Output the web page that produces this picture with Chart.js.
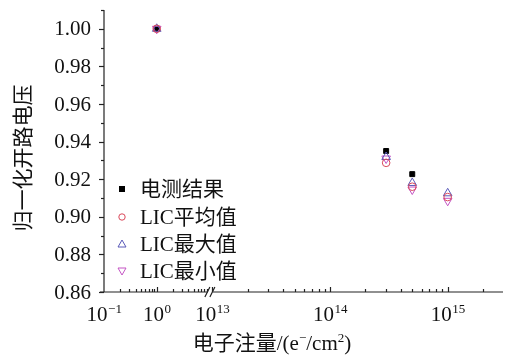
<!DOCTYPE html>
<html><head><meta charset="utf-8">
<script src="https://cdn.jsdelivr.net/npm/chart.js@4/dist/chart.umd.min.js"></script>
<style>html,body{margin:0;padding:0;background:#fff}#wrap{width:517px;height:357px;position:relative}</style>
</head><body><div id="wrap"><canvas id="c"></canvas></div>
<script>
// ---- data ----
const fluence = [1, 3e14, 5e14, 1e15];           // e-/cm^2
const measured = [1.000, 0.935, 0.9227, null];    // 电测结果
const licAvg   = [1.000, 0.9287, 0.9160, 0.9105]; // LIC平均值
const licMax   = [1.000, 0.9318, 0.9180, 0.9125]; // LIC最大值
const licMin   = [1.000, 0.9310, 0.9145, 0.9085]; // LIC最小值
const seriesNames = ['电测结果', 'LIC平均值', 'LIC最大值', 'LIC最小值'];
const xTickExps = [-1, 0, 13, 14, 15];
const yTicks = [0.86, 0.88, 0.90, 0.92, 0.94, 0.96, 0.98, 1.00];
const xTitle = '电子注量/(e⁻/cm²)';
const yTitle = '归一化开路电压';

// broken log axis: segment 1 = 1e-1..1e1, segment 2 = 1e13..
const SEG1 = 0.448, BREAK = 0.92, XMAX = 3.39;
function fx(v){ const L = Math.log10(v); return L <= 1.0001 ? SEG1*(L+1) : BREAK + (L-13); }
const pts = arr => fluence.map((f,i)=> arr[i]==null ? null : {x: fx(f), y: arr[i]}).filter(p=>p);

const SERIF = '"Liberation Serif","Noto Sans CJK SC",serif';
const styles = [
  {pointStyle:'rect', radius:3.5, color:'#000000', fill:'#000000', rot:0},
  {pointStyle:'circle', radius:3.8, color:'#d9485a', fill:'rgba(0,0,0,0)', rot:0},
  {pointStyle:'triangle', radius:5, color:'#5a5ab8', fill:'rgba(0,0,0,0)', rot:0},
  {pointStyle:'triangle', radius:5, color:'#c455c4', fill:'rgba(0,0,0,0)', rot:180}
];
const seriesData = [measured, licAvg, licMax, licMin];

const datasets = seriesData.map((arr,i)=>({
  label: seriesNames[i], data: pts(arr), showLine:false,
  pointStyle: styles[i].pointStyle, pointRadius: styles[i].radius, pointRotation: styles[i].rot,
  borderColor: styles[i].color, backgroundColor: styles[i].fill, pointBorderWidth: 1
}));
// draw measured on top
datasets.push(datasets.shift());

const axesPlugin = {
  id:'axes',
  afterDraw(chart){
    const ctx = chart.ctx, xs = chart.scales.x, ys = chart.scales.y;
    const x0 = xs.left, x1 = xs.right, yb = ys.bottom, yt = ys.top;
    ctx.save();
    ctx.strokeStyle = '#222'; ctx.lineWidth = 1.2; ctx.fillStyle = '#111';
    // y axis
    ctx.beginPath(); ctx.moveTo(x0, yt); ctx.lineTo(x0, yb); ctx.stroke();
    for (let v = 0.86; v <= 1.0101; v += 0.01) {
      const y = Math.round(ys.getPixelForValue(v)) + 0.5;
      const major = Math.abs(Math.round(v*100) % 2) === 0;
      ctx.beginPath(); ctx.moveTo(x0, y); ctx.lineTo(x0 - (major ? 5 : 3), y); ctx.stroke();
    }
    ctx.font = '21px ' + SERIF; ctx.textAlign = 'right'; ctx.textBaseline = 'middle';
    yTicks.forEach(v => ctx.fillText(v.toFixed(2), x0 - 13, ys.getPixelForValue(v) + 1));
    // x axis with break
    const bx = xs.getPixelForValue((SEG1*2 + BREAK)/2);
    ctx.beginPath(); ctx.moveTo(x0 - 4, yb); ctx.lineTo(bx - 3, yb); ctx.moveTo(bx + 2, yb); ctx.lineTo(x1, yb); ctx.stroke();
    ctx.beginPath();
    ctx.moveTo(bx - 6, yb + 5); ctx.lineTo(bx - 1, yb - 5);
    ctx.moveTo(bx - 1, yb + 5); ctx.lineTo(bx + 4, yb - 5);
    ctx.stroke();
    const tick = (v, len) => { const x = Math.round(xs.getPixelForValue(fx(v))) + 0.5;
      if (x < x0 - 1 || x > x1 + 1) return;
      ctx.beginPath(); ctx.moveTo(x, yb); ctx.lineTo(x, yb - len); ctx.stroke(); };
    [-1, 0].forEach(e => { if (e > -1) tick(Math.pow(10,e), 5); for (let m=2;m<=9;m++) tick(m*Math.pow(10,e), 3); });
    [13, 14, 15].forEach(e => { tick(Math.pow(10,e), 5); for (let m=2;m<=9;m++) tick(m*Math.pow(10,e), 3); });
    // x tick labels (10^n)
    xTickExps.forEach(e => {
      const x = xs.getPixelForValue(fx(Math.pow(10,e)));
      const exp = e < 0 ? '\u2212' + (-e) : String(e);
      ctx.font = '21px ' + SERIF; const wb = ctx.measureText('10').width;
      ctx.font = '13px ' + SERIF; const we = ctx.measureText(exp).width;
      const start = x - (wb + we)/2;
      ctx.textAlign = 'left'; ctx.textBaseline = 'alphabetic';
      ctx.font = '21px ' + SERIF; ctx.fillText('10', start, 321);
      ctx.font = '13px ' + SERIF; ctx.fillText(exp, start + wb + 0.5, 313);
    });
    // x title with superscripts
    const parts = [['电子注量/(e',21,0],['\u2212',13,-8],['/cm',21,0],['2',13,-8],[')',21,0]];
    let tw = 0; parts.forEach(p => { ctx.font = p[1] + 'px ' + SERIF; tw += ctx.measureText(p[0]).width; });
    let cx = 272 - tw/2;
    parts.forEach(p => { ctx.font = p[1] + 'px ' + SERIF; ctx.fillText(p[0], cx, 350 + p[2]); cx += ctx.measureText(p[0]).width; });
    // y title
    ctx.save(); ctx.translate(24, 158); ctx.rotate(-Math.PI/2);
    ctx.font = '21px ' + SERIF; ctx.textAlign = 'center'; ctx.textBaseline = 'middle';
    ctx.fillText(yTitle, 0, 0); ctx.restore();
    // legend
    const rows = [189, 217, 244, 271];
    seriesNames.forEach((name, i) => {
      const st = styles[i], mx = 122, my = rows[i];
      ctx.lineWidth = 1; ctx.strokeStyle = st.color; ctx.fillStyle = st.color;
      if (i === 0) { ctx.fillRect(mx - 3, my - 3, 6, 6); }
      else if (i === 1) { ctx.beginPath(); ctx.arc(mx, my, 3.2, 0, Math.PI*2); ctx.stroke(); }
      else { const d = i === 2 ? 1 : -1; ctx.beginPath();
        ctx.moveTo(mx, my - 4*d); ctx.lineTo(mx + 4, my + 3*d); ctx.lineTo(mx - 4, my + 3*d); ctx.closePath(); ctx.stroke(); }
      ctx.fillStyle = '#111'; ctx.font = '21px ' + SERIF; ctx.textAlign = 'left'; ctx.textBaseline = 'middle';
      ctx.fillText(name, 140, my + 1);
    });
    ctx.restore();
  }
};

new Chart(document.getElementById('c'), {
  type: 'scatter',
  data: { datasets },
  options: {
    responsive: true, maintainAspectRatio: false, animation: false,
    layout: { padding: { left: 104, right: 14, top: 10, bottom: 65 } },
    scales: {
      x: { type: 'linear', min: 0, max: XMAX, display: false },
      y: { type: 'linear', min: 0.86, max: 1.01, display: false }
    },
    plugins: { legend: { display: false }, tooltip: { enabled: false } },
    clip: false
  },
  plugins: [axesPlugin]
});
</script></body></html>
